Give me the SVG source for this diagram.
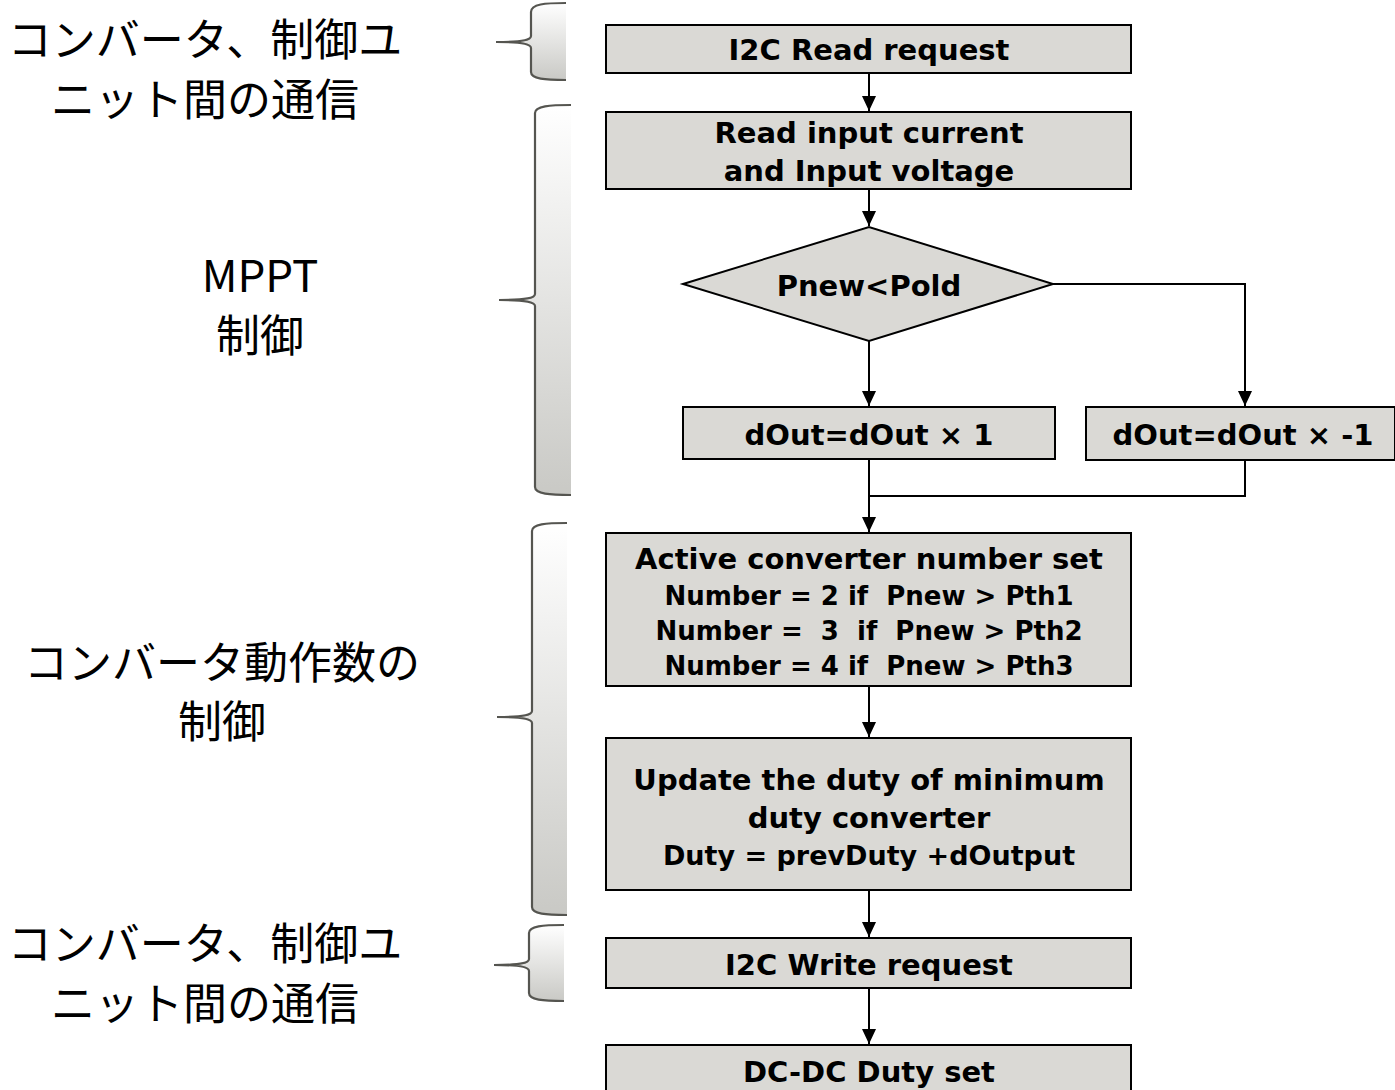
<svg xmlns="http://www.w3.org/2000/svg" width="1395" height="1090" viewBox="0 0 1395 1090">
<style>
.box{fill:#dad9d5;stroke:#000;stroke-width:2}
.t{font-family:"DejaVu Sans","Liberation Sans",sans-serif;font-weight:bold;font-size:29px;fill:#000;text-anchor:middle;white-space:pre}
.s{font-size:26px}
.jp{font-family:"Noto Sans CJK JP","Noto Sans",sans-serif;font-size:44px;fill:#000;text-anchor:middle}
.con{fill:none;stroke:#000;stroke-width:2}
.bf{fill:url(#bg);stroke:none}
.bs{fill:none;stroke:#555550;stroke-width:2.2}
</style>
<defs>
<linearGradient id="bg" x1="0" y1="0" x2="0" y2="1">
<stop offset="0" stop-color="#ffffff"/>
<stop offset="1" stop-color="#c9c9c5"/>
</linearGradient>
<marker id="ah" markerWidth="15" markerHeight="14" viewBox="0 0 15 14" refX="15" refY="7" orient="auto" markerUnits="userSpaceOnUse">
<path d="M0,0 L15,7 L0,14 Z" fill="#000"/>
</marker>
</defs>

<g id="labels">
<g id="label-comm1">
<text class="jp" x="205" y="56">コンバータ、制御ユ</text>
<text class="jp" x="205" y="116">ニット間の通信</text>
</g>
<g id="label-mppt">
<text class="jp" x="260" y="292">MPPT</text>
<text class="jp" x="260" y="352">制御</text>
</g>
<g id="label-count">
<text class="jp" x="222" y="679">コンバータ動作数の</text>
<text class="jp" x="222" y="738">制御</text>
</g>
<g id="label-comm2">
<text class="jp" x="205" y="960">コンバータ、制御ユ</text>
<text class="jp" x="205" y="1020">ニット間の通信</text>
</g>
</g>

<g id="braces">
<g id="brace1">
<path class="bf" d="M566,3 C545,3 531,4 531,12 L531,36 C531,40 522,42 496,42 C522,42 531,44 531,48 L531,72 C531,79 545,80 566,80 Z"/>
<path class="bs" d="M566,3 C545,3 531,4 531,12 L531,36 C531,40 522,42 496,42 C522,42 531,44 531,48 L531,72 C531,79 545,80 566,80"/>
</g>
<g id="brace2">
<path class="bf" d="M571,105 C550,105 535,106 535,113 L535,294 C535,298 526,300 499,300 C526,300 535,302 535,306 L535,487 C535,494 550,495 571,495 Z"/>
<path class="bs" d="M571,105 C550,105 535,106 535,113 L535,294 C535,298 526,300 499,300 C526,300 535,302 535,306 L535,487 C535,494 550,495 571,495"/>
</g>
<g id="brace3">
<path class="bf" d="M567,523 C546,523 532,524 532,531 L532,711 C532,715 523,717 497,717 C523,717 532,719 532,723 L532,907 C532,914 546,915 567,915 Z"/>
<path class="bs" d="M567,523 C546,523 532,524 532,531 L532,711 C532,715 523,717 497,717 C523,717 532,719 532,723 L532,907 C532,914 546,915 567,915"/>
</g>
<g id="brace4">
<path class="bf" d="M564,925 C543,925 529,926 529,933 L529,959 C529,963 520,965 494,965 C520,965 529,967 529,971 L529,993 C529,1000 543,1001 564,1001 Z"/>
<path class="bs" d="M564,925 C543,925 529,926 529,933 L529,959 C529,963 520,965 494,965 C520,965 529,967 529,971 L529,993 C529,1000 543,1001 564,1001"/>
</g>
</g>

<g id="connectors">
<path class="con" d="M869,73 L869,111" marker-end="url(#ah)"/>
<path class="con" d="M869,189 L869,226" marker-end="url(#ah)"/>
<path class="con" d="M869,341 L869,406" marker-end="url(#ah)"/>
<path class="con" d="M1053,284 L1245,284 L1245,406" marker-end="url(#ah)"/>
<path class="con" d="M1245,460 L1245,496 L869,496"/>
<path class="con" d="M869,459 L869,532" marker-end="url(#ah)"/>
<path class="con" d="M869,686 L869,737" marker-end="url(#ah)"/>
<path class="con" d="M869,890 L869,937" marker-end="url(#ah)"/>
<path class="con" d="M869,988 L869,1044" marker-end="url(#ah)"/>
</g>

<g id="n-i2c-read">
<rect class="box" x="606" y="25" width="525" height="48"/>
<text class="t" x="869" y="60">I2C Read request</text>
</g>
<g id="n-read-input">
<rect class="box" x="606" y="112" width="525" height="77"/>
<text class="t" x="869" y="143">Read input current</text>
<text class="t" x="869" y="181">and Input voltage</text>
</g>
<g id="n-decision">
<polygon class="box" points="683,284 869,227 1053,284 869,341"/>
<text class="t" x="869" y="296">Pnew&lt;Pold</text>
</g>
<g id="n-dout-pos">
<rect class="box" x="683" y="407" width="372" height="52"/>
<text class="t" x="869" y="445">dOut=dOut × 1</text>
</g>
<g id="n-dout-neg">
<rect class="box" x="1086" y="407" width="309" height="53"/>
<text class="t" x="1243" y="445">dOut=dOut × -1</text>
</g>
<g id="n-active">
<rect class="box" x="606" y="533" width="525" height="153"/>
<text class="t" x="869" y="569">Active converter number set</text>
<text class="t s" x="869" y="605">Number = 2 if  Pnew &gt; Pth1</text>
<text class="t s" x="869" y="640">Number =  3  if  Pnew &gt; Pth2</text>
<text class="t s" x="869" y="675">Number = 4 if  Pnew &gt; Pth3</text>
</g>
<g id="n-update">
<rect class="box" x="606" y="738" width="525" height="152"/>
<text class="t" x="869" y="790">Update the duty of minimum</text>
<text class="t" x="869" y="828">duty converter</text>
<text class="t" x="869" y="865" style="font-size:27px">Duty = prevDuty +dOutput</text>
</g>
<g id="n-i2c-write">
<rect class="box" x="606" y="938" width="525" height="50"/>
<text class="t" x="869" y="975">I2C Write request</text>
</g>
<g id="n-dcdc">
<rect class="box" x="606" y="1045" width="525" height="60"/>
<text class="t" x="869" y="1082">DC-DC Duty set</text>
</g>
</svg>
